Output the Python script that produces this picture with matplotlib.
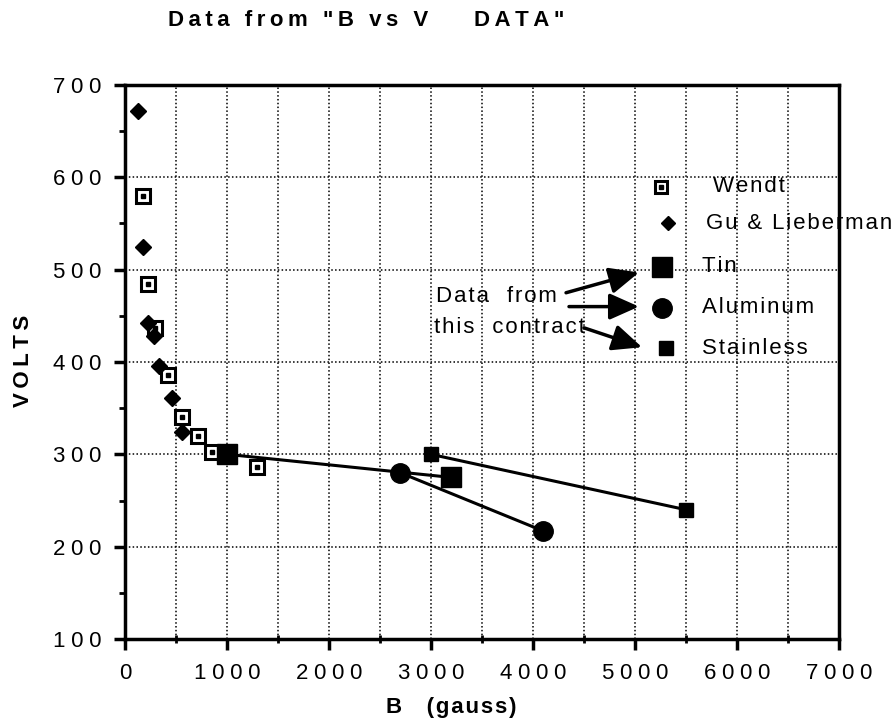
import matplotlib
matplotlib.use("Agg")
import matplotlib.pyplot as plt
from matplotlib.ticker import MultipleLocator, FuncFormatter

plt.rcParams['font.family'] = ['Liberation Sans', 'DejaVu Sans']

# ---- data ----
wendt_b = [175, 225, 290, 420, 560, 715, 850, 1290]
wendt_v = [580, 485, 437, 386, 340, 320, 303, 286]

gu_b = [130, 180, 230, 280, 330, 460, 560]
gu_v = [672, 525, 442, 428, 396, 361, 324]

tin_b = [1000, 3200]
tin_v = [300, 275]

al_b = [2700, 4100]
al_v = [280, 217]

ss_b = [3000, 5500]
ss_v = [300, 240]

legend_labels = ["Wendt", "Gu & Lieberman", "Tin", "Aluminum", "Stainless"]
legend_y = [590, 550, 503, 459, 415]

TS = '\u2009'   # thin space
HS = '\u200a'   # hair space

def spread(s, gap):
    return gap.join(list(s))

fig = plt.figure(figsize=(8.95, 7.26), dpi=100)
ax = fig.add_axes([125/895, 1-639/726, (839-125)/895, (639-85)/726])

ax.set_xlim(0, 7000)
ax.set_ylim(100, 700)

# grid
ax.xaxis.set_major_locator(MultipleLocator(1000))
ax.xaxis.set_minor_locator(MultipleLocator(500))
ax.yaxis.set_major_locator(MultipleLocator(100))
ax.yaxis.set_minor_locator(MultipleLocator(50))
ax.grid(True, which='major', axis='y', color='black', linestyle=(0, (1, 1.5)), lw=1.1)
ax.grid(True, which='both', axis='x', color='black', linestyle=(0, (1, 1.5)), lw=1.1)
ax.set_axisbelow(True)

for s in ax.spines.values():
    s.set_linewidth(2.5)

def spaced(v, pos):
    return spread(str(int(v)), HS * 3)

ax.xaxis.set_major_formatter(FuncFormatter(spaced))
ax.yaxis.set_major_formatter(FuncFormatter(spaced))
ax.tick_params(axis='both', which='major', direction='out', length=8, width=2.5,
               labelsize=16, pad=9)
ax.tick_params(axis='both', which='minor', direction='out', length=4, width=2)
ax.tick_params(axis='x', which='minor', direction='inout', length=6)

# data series
ax.plot(wendt_b, wendt_v, linestyle='none', marker='s', ms=9.5, mfc='white',
        mec='black', mew=2.2, zorder=3)
ax.plot(wendt_b, wendt_v, linestyle='none', marker='s', ms=2.5, color='black', zorder=4)
ax.plot(gu_b, gu_v, linestyle='none', marker='D', ms=8.5, color='black', zorder=3)
ax.plot(tin_b, tin_v, '-', color='black', lw=2.2, marker='s', ms=14, zorder=3)
ax.plot(al_b, al_v, '-', color='black', lw=2.2, marker='o', ms=14, zorder=3)
ax.plot(ss_b, ss_v, '-', color='black', lw=2.2, marker='s', ms=10, zorder=3)

# manual legend
ax.plot([5255], [legend_y[0]], linestyle='none', marker='s', ms=9, mfc='white',
        mec='black', mew=2.2, zorder=3)
ax.plot([5255], [legend_y[0]], linestyle='none', marker='s', ms=2.5, color='black', zorder=4)
ax.plot([5324], [legend_y[1]], linestyle='none', marker='D', ms=7, color='black', zorder=3)
ax.plot([5265], [legend_y[2]], linestyle='none', marker='s', ms=14, color='black', zorder=3)
ax.plot([5265], [legend_y[3]], linestyle='none', marker='o', ms=14, color='black', zorder=3)
ax.plot([5304], [legend_y[4]], linestyle='none', marker='s', ms=10, color='black', zorder=3)
label_x = [5760, 5696, 5657, 5657, 5657]
for xx, yy, lab in zip(label_x, legend_y, legend_labels):
    ax.text(xx, yy, spread(lab, HS), fontsize=16, va='center',
            ha='left', clip_on=False)

# annotation
ax.text(3045, 471, spread("Data  from", HS), fontsize=16, va='center', ha='left')
ax.text(3030, 437, spread("this  contract", HS), fontsize=16, va='center', ha='left')
arrows = [((4324, 475), (5039, 497)), ((4353, 460), (5039, 460)), ((4500, 437), (5069, 416))]
for tail, head in arrows:
    ax.annotate('', xy=head, xytext=tail,
                arrowprops=dict(arrowstyle='-|>,head_length=0.45,head_width=0.2',
                                lw=2.5, color='black',
                                mutation_scale=40, shrinkA=0, shrinkB=0))

# labels
title_words = ['Data', 'from', '"B', 'vs', 'V']
title = (TS + ' ' + TS).join(spread(w, TS) for w in title_words)
title += TS + ' ' * 6 + TS + spread('DATA"', TS)
fig.text(366/895, 1-20/726, title, fontsize=16, fontweight='bold',
         ha='center', va='center')
fig.text(24/895, 1-361/726, spread('VOLTS', TS), fontsize=16, fontweight='bold',
         rotation=90, ha='center', va='center')
fig.text(451/895, 1-708/726, 'B    ' + spread('(gauss)', HS), fontsize=16,
         fontweight='bold', ha='center', va='center')

fig.savefig('out.png', dpi=100)
